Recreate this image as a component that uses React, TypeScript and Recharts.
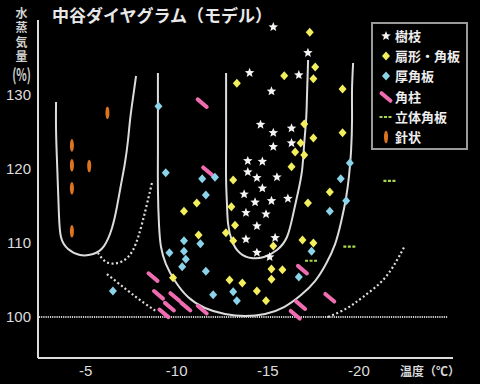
import React from 'react';
import { ComposedChart, XAxis, YAxis, Scatter, Line } from 'recharts';

type P = [number, number];

const xTicks = [-5, -10, -15, -20];
const yTicks = [100, 110, 120, 130];

const dendrite: P[] = [[-15.3,139.2],[-17.2,135.7],[-14.0,133.0],[-16.7,132.7],[-15.2,130.5],[-14.6,126.0],[-16.3,125.5],[-15.3,124.9],[-16.3,123.5],[-15.3,123.0],[-14.7,121.0],[-13.9,121.1],[-13.9,119.6],[-14.4,118.8],[-15.5,118.9],[-14.7,117.4],[-13.7,116.6],[-14.3,115.5],[-15.2,115.7],[-16.1,116.0],[-13.8,114.1],[-14.9,113.9],[-14.4,112.3],[-13.8,110.5],[-15.4,110.7],[-14.4,108.7],[-15.1,108.1]];
const sectorPlates: P[] = [[-17.3,138.5],[-17.6,133.8],[-15.9,132.6],[-17.5,132.2],[-19.1,130.8],[-17.0,126.1],[-17.5,124.2],[-19.1,124.9],[-16.8,123.5],[-16.5,122.3],[-17.0,121.9],[-16.3,120.3],[-13.3,131.6],[-18.4,116.9],[-17.2,115.4],[-16.9,110.4],[-17.5,110.0],[-15.3,109.6],[-15.2,106.5],[-15.8,106.4],[-15.2,105.1],[-14.4,103.5],[-14.9,102.2],[-13.1,118.5],[-11.1,115.4],[-10.4,114.3],[-13.0,114.9],[-13.2,112.4],[-12.7,111.4],[-11.2,111.1],[-13.1,110.3],[-9.8,105.3],[-12.9,105.0],[-13.6,104.6]];
const thickPlates: P[] = [[-9.0,128.5],[-9.4,119.5],[-11.4,118.7],[-12.1,118.9],[-11.6,116.5],[-10.4,110.3],[-9.6,108.7],[-10.4,108.9],[-11.3,109.9],[-10.5,107.8],[-10.3,106.8],[-11.6,106.2],[-12.0,103.0],[-13.1,103.4],[-13.3,102.2],[-6.5,103.5],[-19.5,120.8],[-19.0,118.7],[-19.3,115.7],[-18.4,114.3],[-17.4,108.9],[-16.7,105.4]];
const columns: P[] = [[-11.4,128.9],[-11.7,119.7],[-8.7,105.4],[-9.0,103.0],[-9.9,102.7],[-9.6,101.4],[-10.5,101.4],[-9.3,100.5],[-11.4,101.0],[-16.9,106.4],[-16.8,101.6],[-16.5,100.3],[-18.4,102.6]];
const solidPlates: P[] = [[-21.7,118.4],[-19.5,109.5],[-17.4,107.6]];
const needles: P[] = [[-6.2,127.6],[-4.25,123.2],[-4.25,120.5],[-5.2,120.4],[-4.25,117.4],[-4.25,111.6]];

const leftU: P[] = [[-3.38,129.05],[-3.38,125.27],[-3.43,121.22],[-3.49,117.16],[-3.54,113.78],[-3.65,110.81],[-4.04,109.19],[-4.69,108.38],[-5.41,108.51],[-6.01,109.59],[-6.45,112.03],[-6.72,114.86],[-6.94,117.84],[-7.16,120.81],[-7.33,123.92],[-7.44,126.62],[-7.6,129.59],[-7.77,132.57]];
const outerU: P[] = [[-8.97,132.97],[-8.97,127.97],[-8.97,122.57],[-8.97,117.16],[-9.03,112.43],[-9.14,109.46],[-9.41,107.16],[-9.91,104.86],[-10.62,102.7],[-11.55,101.22],[-12.65,100.41],[-13.75,100.14],[-14.85,100.41],[-15.89,101.35],[-16.82,102.97],[-17.59,104.86],[-18.19,107.16],[-18.69,109.86],[-19.02,112.84],[-19.29,116.08],[-19.46,119.19],[-19.57,122.57],[-19.62,126.62],[-19.62,130.68],[-19.68,134.32]];
const innerU: P[] = [[-12.71,132.97],[-12.71,127.97],[-12.71,123.24],[-12.71,118.51],[-12.76,115.14],[-12.82,112.57],[-13.04,110.27],[-13.47,108.65],[-14.08,107.97],[-14.79,108.11],[-15.5,109.05],[-16.05,110.81],[-16.38,113.78],[-16.66,116.89],[-16.88,119.86],[-16.99,123.24],[-17.1,126.62],[-17.15,130.0],[-17.21,134.73]];
const dotted1: P[] = [[-8.64,118.1],[-8.15,113.1],[-7.6,109.05],[-6.89,107.4],[-6.17,107.4],[-5.68,108.65]];
const dotted2: P[] = [[-6.17,105.8],[-7.27,103.65],[-8.15,102.0],[-8.86,100.8]];
const dotted3: P[] = [[-18.3,100.0],[-19.35,101.2],[-20.22,102.7],[-21.32,105.0],[-22.09,107.7],[-22.53,109.7]];
const saturation: P[] = [[-2.44,100],[-24.89,100]];

const legendLabels = ['樹枝', '扇形・角板', '厚角板', '角柱', '立体角板', '針状'];

const pts = (a: P[]) => a.map(([x, y]) => ({ x, y }));

const C = {
  star: '#f4f4f4',
  yellow: '#f3ee5e',
  cyan: '#8ad3e8',
  pink: '#f06cb0',
  green: '#a9d84c',
  orange: '#dd7420',
  line: '#dcdcdc',
};

const StarShape = (p: any) => {
  const { cx, cy } = p;
  const out: string[] = [];
  for (let i = 0; i < 10; i++) {
    const r = i % 2 === 0 ? 5 : 2.2;
    const a = -Math.PI / 2 + (i * Math.PI) / 5;
    out.push(`${cx + r * Math.cos(a)},${cy + r * Math.sin(a)}`);
  }
  return <polygon points={out.join(' ')} fill={C.star} />;
};
const diamond = (color: string) => (p: any) => {
  const { cx, cy } = p;
  return <polygon points={`${cx},${cy - 4.5} ${cx + 4},${cy} ${cx},${cy + 4.5} ${cx - 4},${cy}`} fill={color} />;
};
const YellowShape = diamond(C.yellow);
const CyanShape = diamond(C.cyan);
const PinkShape = (p: any) => {
  const { cx, cy } = p;
  return <line x1={cx - 4.5} y1={cy - 3.8} x2={cx + 4.5} y2={cy + 3.8} stroke={C.pink} strokeWidth={4} strokeLinecap="round" />;
};
const GreenShape = (p: any) => {
  const { cx, cy } = p;
  return <line x1={cx - 6.5} y1={cy} x2={cx + 6.5} y2={cy} stroke={C.green} strokeWidth={2.2} strokeDasharray="3 1.5" />;
};
const OrangeShape = (p: any) => {
  const { cx, cy } = p;
  return <ellipse cx={cx} cy={cy} rx={2} ry={6.3} fill={C.orange} />;
};

const legendShapes = [StarShape, YellowShape, CyanShape, PinkShape, GreenShape, OrangeShape];

const jp = '"Noto Sans CJK JP", sans-serif';
const tickStyle = { fill: '#dddddd', fontSize: 15, fontFamily: '"Liberation Sans", Arial, sans-serif' };

export default function App() {
  const solid = { stroke: C.line, strokeWidth: 2, dot: false, activeDot: false, isAnimationActive: false, type: 'natural' as const };
  const dotted = { ...solid, strokeDasharray: '2 2.5', strokeWidth: 2.2 };
  return (
    <div style={{ position: 'absolute', left: 0, top: 0, width: 480, height: 384, background: '#000', overflow: 'hidden' }}>
      <ComposedChart width={480} height={384} margin={{ top: 20, right: 27, bottom: 0, left: 0 }}>
        <XAxis
          type="number"
          dataKey="x"
          domain={[-25.16, -2.39]}
          reversed
          allowDataOverflow
          ticks={xTicks}
          tick={tickStyle}
          tickLine={false}
          tickSize={6}
          tickMargin={1}
          height={26}
          axisLine={{ stroke: C.line, strokeWidth: 2 }}
        />
        <YAxis
          type="number"
          dataKey="y"
          domain={[94.46, 140.14]}
          allowDataOverflow
          ticks={yTicks}
          tick={tickStyle}
          tickLine={false}
          tickSize={6}
          tickMargin={1}
          width={38}
          axisLine={{ stroke: C.line, strokeWidth: 2 }}
        />
        <Line data={pts(saturation)} dataKey="y" {...solid} type="linear" stroke="#cfcfcf" strokeWidth={2} strokeDasharray="1.2 1" />
        <Line data={pts(leftU)} dataKey="y" {...solid} />
        <Line data={pts(outerU)} dataKey="y" {...solid} />
        <Line data={pts(innerU)} dataKey="y" {...solid} />
        <Line data={pts(dotted1)} dataKey="y" {...dotted} />
        <Line data={pts(dotted2)} dataKey="y" {...dotted} />
        <Line data={pts(dotted3)} dataKey="y" {...dotted} />
        <Scatter data={pts(needles)} shape={OrangeShape} isAnimationActive={false} />
        <Scatter data={pts(solidPlates)} shape={GreenShape} isAnimationActive={false} />
        <Scatter data={pts(columns)} shape={PinkShape} isAnimationActive={false} />
        <Scatter data={pts(thickPlates)} shape={CyanShape} isAnimationActive={false} />
        <Scatter data={pts(sectorPlates)} shape={YellowShape} isAnimationActive={false} />
        <Scatter data={pts(dendrite)} shape={StarShape} isAnimationActive={false} />
      </ComposedChart>

      <div style={{ position: 'absolute', left: 52, top: 5, fontFamily: jp, fontSize: 17, fontWeight: 700, color: '#e8e8e8', lineHeight: '20px', whiteSpace: 'nowrap' }}>
        中谷ダイヤグラム（モデル）
      </div>

      <div style={{ position: 'absolute', left: 9, top: 7, width: 24, writingMode: 'vertical-rl', textOrientation: 'upright', fontFamily: jp, fontSize: 12, fontWeight: 700, color: '#cfcfcf', lineHeight: '24px', letterSpacing: '2.5px', whiteSpace: 'nowrap' }}>
        水蒸気量<span style={{ textCombineUpright: 'all', fontSize: 17, letterSpacing: 0 } as any}>(%)</span>
      </div>

      <div style={{ position: 'absolute', left: 400, top: 363, fontFamily: jp, fontSize: 12, fontWeight: 700, color: '#d8d8d8', lineHeight: '16px', whiteSpace: 'nowrap' }}>
        温度（℃）
      </div>

      <div style={{ position: 'absolute', left: 371, top: 22, width: 93, height: 124, border: '2px solid #9a9a9a', boxSizing: 'content-box' }}>
        {legendLabels.map((lab, i) => {
          const Shape = legendShapes[i];
          return (
            <div key={lab} style={{ position: 'absolute', left: 0, top: 2 + i * 20.2, height: 20, width: 93 }}>
              <svg width={20} height={20} style={{ position: 'absolute', left: 2, top: 0 }}>
                <Shape cx={11} cy={10} />
              </svg>
              <div style={{ position: 'absolute', left: 22, top: 1, fontFamily: jp, fontSize: 13, fontWeight: 700, color: '#eeeeee', lineHeight: '18px', whiteSpace: 'nowrap' }}>
                {lab}
              </div>
            </div>
          );
        })}
      </div>
    </div>
  );
}
